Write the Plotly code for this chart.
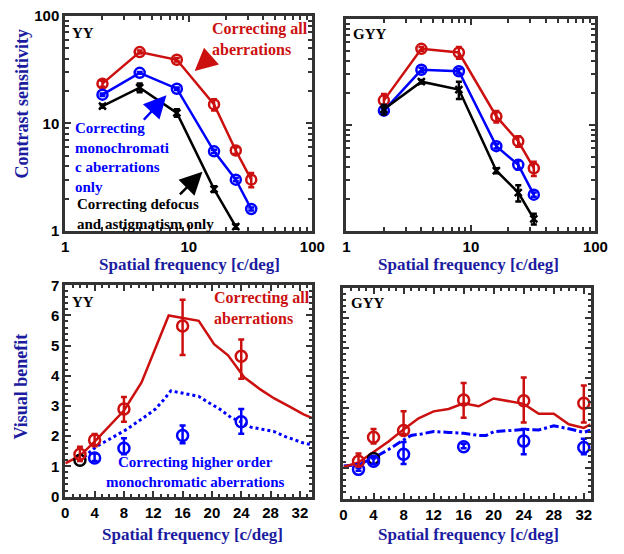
import plotly.graph_objects as go

W, H = 624, 554

# ---------------- data ----------------
freq = [2, 4, 8, 16, 24, 32]
freq_blk = [2, 4, 8, 16, 24]

# Top-left (YY) contrast sensitivity
yy_all = [23.4, 46, 39, 15, 5.6, 3.0]
yy_all_err = [1.5, 1.5, 1.5, 1.8, 0.4, 0.45]
yy_mono = [18.5, 29.5, 21, 5.5, 3.0, 1.6]
yy_mono_err = [0.5, 0.6, 0.6, 0.2, 0.1, 0.05]
yy_def = [14.5, 21.5, 12.5, 2.45, 1.1]
yy_def_err = [0.5, 2.0, 1.0, 0.15, 0.05]

# Top-right (GYY) contrast sensitivity
gyy_all = [17, 52, 48, 12, 7.0, 3.9]
gyy_all_err = [2.5, 2.0, 6.0, 1.5, 0.8, 0.6]
gyy_mono = [13.6, 33, 32, 6.3, 4.2, 2.2]
gyy_mono_err = [0.5, 1.5, 1.5, 0.3, 0.4, 0.1]
gyy_def = [14, 25.5, 21.5, 3.7, 2.3, 1.3]
gyy_def_err = [1.5, 1.0, 4.0, 0.2, 0.4, 0.15]

# Bottom-left (YY) visual benefit
yy_vb_all_x = [0, 2, 4, 6, 8, 10.4, 14.1, 18.2, 20.3, 22.2, 24.4, 26.6, 28.5, 30.6, 32.5, 33.7]
yy_vb_all_y = [1.1, 1.35, 1.82, 2.32, 2.85, 3.78, 6.0, 5.82, 5.05, 4.68, 3.95, 3.55, 3.25, 2.98, 2.72, 2.6]
yy_vb_ho_x = [2, 3, 4.2, 6.4, 8.2, 10.6, 12.3, 13.4, 14.4, 15.5, 17.3, 18.2, 19.3, 21.1, 22.6, 24.2, 25.3, 27.0, 28.4, 30.1, 32.4, 33.7]
yy_vb_ho_y = [1.16, 1.4, 1.65, 1.95, 2.2, 2.6, 2.9, 3.2, 3.5, 3.45, 3.38, 3.32, 3.15, 2.89, 2.62, 2.45, 2.3, 2.22, 2.16, 1.98, 1.78, 1.71]
yy_pts_all = [1.4, 1.87, 2.9, 5.65, 4.65]
yy_pts_all_up = [0.25, 0.2, 0.4, 0.87, 0.55]
yy_pts_all_dn = [0.22, 0.2, 0.42, 0.96, 0.75]
yy_pts_all_x = [2, 4, 8, 16, 24]
yy_pts_ho_x = [4, 8, 16, 24]
yy_pts_ho = [1.28, 1.6, 2.02, 2.48]
yy_pts_ho_up = [0.15, 0.33, 0.33, 0.42]
yy_pts_ho_dn = [0.1, 0.2, 0.25, 0.4]
yy_pts_def_x = [2]
yy_pts_def = [1.2]

# Bottom-right (GYY) visual benefit
gyy_vb_all_x = [0, 2, 4, 6, 8, 10, 12, 14, 16, 18, 20, 22, 24, 26, 28, 30, 32, 32.9]
gyy_vb_all_y = [1.05, 1.2, 1.55, 1.9, 2.3, 2.67, 2.9, 2.98, 3.17, 3.07, 3.33, 3.24, 3.15, 2.82, 2.82, 2.47, 2.35, 2.47]
gyy_vb_ho_x = [0, 2, 4, 6, 8, 9, 10.4, 12, 14, 16, 18, 19, 20, 22, 24, 26, 28, 30, 32, 32.9]
gyy_vb_ho_y = [1.08, 1.13, 1.35, 1.63, 1.95, 2.1, 2.15, 2.23, 2.2, 2.17, 2.1, 2.1, 2.22, 2.26, 2.3, 2.28, 2.42, 2.32, 2.2, 2.27]
gyy_pts_all = [1.24, 2.04, 2.26, 3.28, 3.25, 3.17]
gyy_pts_all_up = [0.26, 0.27, 0.64, 0.56, 0.78, 0.59]
gyy_pts_all_dn = [0.16, 0.21, 0.11, 0.59, 0.72, 0.64]
gyy_pts_ho = [0.97, 1.24, 1.47, 1.72, 1.91, 1.7]
gyy_pts_ho_up = [0.05, 0.1, 0.41, 0.1, 0.4, 0.29]
gyy_pts_ho_dn = [0.05, 0.1, 0.32, 0.05, 0.44, 0.23]
gyy_pts_def_x = [4]
gyy_pts_def = [1.33]

log_ticks = [1, 10, 100]
log_minor = [2, 3, 4, 5, 6, 7, 8, 9, 20, 30, 40, 50, 60, 70, 80, 90]
lin_xticks = [0, 4, 8, 12, 16, 20, 24, 28, 32]
lin_yticks = [0, 1, 2, 3, 4, 5, 6, 7]

# ---------------- style ----------------
RED = "#cc1010"
BLUE = "#0000ff"
BLACK = "#000000"
NAVY = "#1c1ca0"
FRAME = "#333333"
SERIF = "Liberation Serif, Times New Roman, Times, serif"
SANS = "Liberation Sans, Arial, Helvetica, sans-serif"


def P(x, y):
    return x / W, 1 - y / H


def dom(x0, x1, y0, y1):
    return [x0 / W, x1 / W], [1 - y1 / H, 1 - y0 / H]


fig = go.Figure()


def cs_trace(xa, ya, x, y, err, color, symbol, size):
    fig.add_trace(go.Scatter(
        x=x, y=y, xaxis=xa, yaxis=ya, mode="lines+markers",
        line=dict(color=color, width=2.5),
        marker=dict(symbol=symbol, size=size, color=color, line=dict(color=color, width=2.5)),
        error_y=dict(type="data", array=err, color=color, thickness=2.5, width=3),
        showlegend=False, cliponaxis=False))


cs_trace("x", "y", freq, yy_all, yy_all_err, RED, "circle-open", 10)
cs_trace("x", "y", freq, yy_mono, yy_mono_err, BLUE, "circle-open", 10)
cs_trace("x", "y", freq_blk, yy_def, yy_def_err, BLACK, "x-thin", 7)
cs_trace("x2", "y2", freq, gyy_all, gyy_all_err, RED, "circle-open", 10)
cs_trace("x2", "y2", freq, gyy_mono, gyy_mono_err, BLUE, "circle-open", 10)
cs_trace("x2", "y2", freq, gyy_def, gyy_def_err, BLACK, "x-thin", 7)


def vb_line(xa, ya, x, y, color, dash, width):
    fig.add_trace(go.Scatter(x=x, y=y, xaxis=xa, yaxis=ya, mode="lines",
                             line=dict(color=color, width=width, dash=dash),
                             showlegend=False))


def vb_pts(xa, ya, x, y, up, dn, color):
    fig.add_trace(go.Scatter(
        x=x, y=y, xaxis=xa, yaxis=ya, mode="markers",
        marker=dict(symbol="circle-open", size=11, color=color, line=dict(color=color, width=2.5)),
        error_y=dict(type="data", array=up, arrayminus=dn, color=color, thickness=2.5, width=3)
        if up is not None else None,
        showlegend=False, cliponaxis=False))


vb_line("x3", "y3", yy_vb_ho_x, yy_vb_ho_y, BLUE, "dot", 3)
vb_line("x3", "y3", yy_vb_all_x, yy_vb_all_y, RED, "solid", 2.5)
vb_pts("x3", "y3", yy_pts_def_x, yy_pts_def, None, None, BLACK)
vb_pts("x3", "y3", yy_pts_ho_x, yy_pts_ho, yy_pts_ho_up, yy_pts_ho_dn, BLUE)
vb_pts("x3", "y3", yy_pts_all_x, yy_pts_all, yy_pts_all_up, yy_pts_all_dn, RED)

vb_line("x4", "y4", gyy_vb_ho_x, gyy_vb_ho_y, BLUE, "dashdot", 3)
vb_line("x4", "y4", gyy_vb_all_x, gyy_vb_all_y, RED, "solid", 2.5)
vb_pts("x4", "y4", gyy_pts_def_x, gyy_pts_def, None, None, BLACK)
vb_pts("x4", "y4", freq, gyy_pts_ho, gyy_pts_ho_up, gyy_pts_ho_dn, BLUE)
vb_pts("x4", "y4", freq, gyy_pts_all, gyy_pts_all_up, gyy_pts_all_dn, RED)

tickfont = dict(family=SANS, size=15, color="black", weight="bold")
common = dict(showline=True, linecolor=FRAME, linewidth=3, mirror="allticks",
              ticks="inside", ticklen=6, tickwidth=2, tickcolor=FRAME,
              showgrid=False, zeroline=False, tickfont=tickfont)


def log_axis(domain, show_labels=True):
    return dict(type="log", range=[0, 2], domain=domain, tickmode="array",
                tickvals=log_ticks, ticktext=[str(v) for v in log_ticks],
                showticklabels=show_labels,
                minor=dict(tickmode="array", tickvals=log_minor, ticks="inside",
                           ticklen=4, tickwidth=2, tickcolor=FRAME, showgrid=False),
                **common)


def lin_x(domain, rng, anchor):
    return dict(range=rng, domain=domain, anchor=anchor, tickmode="array",
                tickvals=lin_xticks, ticktext=[str(v) for v in lin_xticks],
                minor=dict(dtick=1, tick0=0, ticks="inside", ticklen=3, tickwidth=1.5,
                           tickcolor=FRAME, showgrid=False),
                **common)


def lin_y(domain, anchor, show_labels=True):
    return dict(range=[0, 7], domain=domain, anchor=anchor, tickmode="array",
                tickvals=lin_yticks, ticktext=[str(v) for v in lin_yticks],
                showticklabels=show_labels,
                minor=dict(dtick=0.2, tick0=0, ticks="inside", ticklen=3, tickwidth=1.5,
                           tickcolor=FRAME, showgrid=False),
                **common)


dx1, dy1 = dom(63, 317, 7, 229)
dx2, dy2 = dom(352, 608, 10, 229)
dx3, dy3 = dom(63, 317, 285, 503)
dx4, dy4 = dom(349, 603, 288, 505)

fig.update_layout(
    width=W, height=H, margin=dict(l=0, r=0, t=0, b=0),
    paper_bgcolor="white", plot_bgcolor="white", showlegend=False,
    xaxis=dict(anchor="y", **log_axis(dx1)),
    yaxis=dict(anchor="x", **log_axis(dy1)),
    xaxis2=dict(anchor="y2", **log_axis(dx2)),
    yaxis2=dict(anchor="x2", **log_axis(dy2, show_labels=False)),
    xaxis3=lin_x(dx3, [0, 33.7], "y3"),
    yaxis3=lin_y(dy3, "x3"),
    xaxis4=lin_x(dx4, [0, 32.9], "y4"),
    yaxis4=lin_y(dy4, "x4", show_labels=False),
)

ann = []


def text(x, y, s, color, size, align="left", xanchor="left", angle=0, yanchor="middle"):
    px, py = P(x, y)
    ann.append(dict(x=px, y=py, xref="paper", yref="paper", text=s, showarrow=False,
                    font=dict(family=SERIF, size=size, color=color, weight="bold"),
                    align=align, xanchor=xanchor, yanchor=yanchor, textangle=angle))


def arrow(tipx, tipy, tailx, taily, color):
    px, py = P(tipx, tipy)
    ann.append(dict(x=px, y=py, xref="paper", yref="paper", text="", showarrow=True,
                    ax=tailx - tipx, ay=taily - tipy, arrowhead=2, arrowsize=1.8,
                    arrowwidth=2.5, arrowcolor=color))


# panel labels
text(68, 25, "YY", BLACK, 15)
text(357, 26, "GYY", BLACK, 15)
text(68, 302, "YY", BLACK, 15)
text(355, 303, "GYY", BLACK, 15)

# axis titles
text(18, 98, "Contrast sensitivity", NAVY, 18, xanchor="center", angle=-90)
text(18, 390, "Visual benefit", NAVY, 18, xanchor="center", angle=-90)
text(191, 264, "Spatial frequency [c/deg]", NAVY, 17, xanchor="center")
text(478, 264, "Spatial frequency [c/deg]", NAVY, 17, xanchor="center")
text(194, 542, "Spatial frequency [c/deg]", NAVY, 17, xanchor="center")
text(478, 542, "Spatial frequency [c/deg]", NAVY, 17, xanchor="center")

# top-left callouts
text(212, 31, "Correcting all<br>aberrations", RED, 16)
arrow(196, 64, 214, 48, RED)
text(71, 153, "Correcting<br>monochromati<br>c aberrations<br>only", BLUE, 15)
arrow(167, 89, 143, 115, BLUE)
text(73, 211, "Correcting defocus<br>and astigmatism only", BLACK, 15)
arrow(204, 168, 180, 192, BLACK)

# bottom-left callouts
text(214, 308, "Correcting all<br>aberrations", RED, 16)
text(197, 478, "Correcting higher order<br>monochromatic aberrations", BLUE, 15,
     align="center", xanchor="center")

fig.update_layout(annotations=ann)
fig.write_html("out.html", config={"displayModeBar": False},
               post_script="document.body.style.margin='0';")
